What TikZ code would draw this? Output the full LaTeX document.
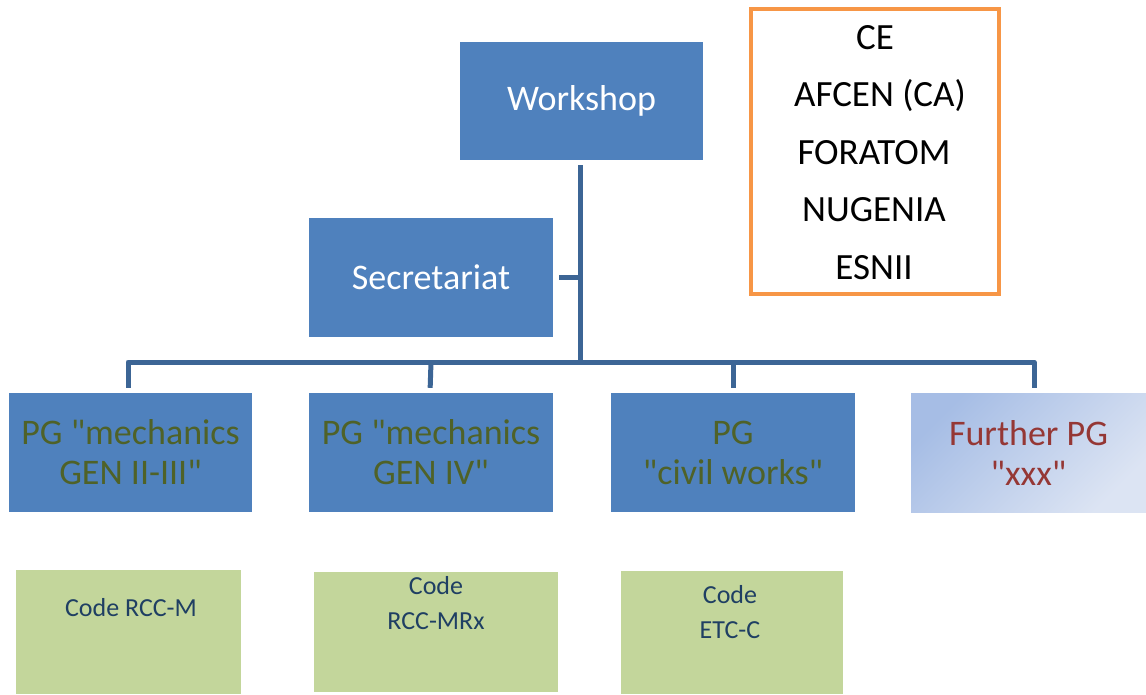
\documentclass[tikz,border=0pt]{standalone}
\usepackage{fontspec}
\setmainfont{Carlito}[Ligatures=TeXOff]
\definecolor{boxblue}{HTML}{4F81BD}
\definecolor{pgtext}{HTML}{4F6228}
\definecolor{redtext}{HTML}{953735}
\definecolor{codegreen}{HTML}{C3D69B}
\definecolor{codetext}{HTML}{1F3F63}
\definecolor{orangeb}{HTML}{F79646}
\definecolor{connc}{HTML}{3C6595}
\definecolor{gradA}{HTML}{A6BDE5}
\definecolor{gradB}{HTML}{DCE4F3}
\begin{document}
\begin{tikzpicture}[x=1pt,y=-1pt,
  bluebox/.style={rectangle,fill=boxblue,draw=none,inner sep=0pt,align=center},
  bigfont/.style={font=\fontsize{36}{40}\selectfont},
  codebox/.style={rectangle,fill=codegreen,draw=none,inner sep=0pt},
  codetxt/.style={font=\fontsize{26}{35}\selectfont,text=codetext,align=center,inner sep=0pt},
  orgtxt/.style={font=\fontsize{37}{40}\selectfont,text=black,inner sep=0pt},
  conn/.style={draw=connc,line width=5pt,line join=round}]
\useasboundingbox (0,0) rectangle (1146,694);
\fill[white] (0,0) rectangle (1146,694);
% top boxes
\node[bluebox,bigfont,text=white,minimum width=243pt,minimum height=118pt] (ws) at (581.5,101) {Workshop};
\node[bluebox,bigfont,text=white,minimum width=244pt,minimum height=119pt] (sec) at (431,277.5) {Secretariat};
% orange box
\node[rectangle,draw=orangeb,line width=4pt,fill=white,minimum width=248pt,minimum height=285pt,inner sep=0pt] (org) at (875,151.5) {};
\node[orgtxt] (t1) at (875,38) {CE};
\node[orgtxt] (t2) at (880,96) {AFCEN (CA)};
\node[orgtxt] (t3) at (874,153) {FORATOM};
\node[orgtxt] (t4) at (874,210) {NUGENIA};
\node[orgtxt] (t5) at (874,268) {ESNII};
% PG boxes
\node[bluebox,bigfont,text=pgtext,minimum width=243pt,minimum height=119pt] (pg1) at (130.5,452.5) {PG "mechanics\\GEN II-III"};
\node[bluebox,bigfont,text=pgtext,minimum width=244pt,minimum height=119pt] (pg2) at (431,452.5) {PG "mechanics\\GEN IV"};
\node[bluebox,bigfont,text=pgtext,minimum width=244pt,minimum height=119pt] (pg3) at (733,452.5) {PG\\"civil works"};
\node[rectangle,inner sep=0pt,minimum width=235pt,minimum height=119pt,left color=gradA,right color=gradB,shading angle=45,bigfont,text=redtext,align=center] (pg4) at (1028.5,452.5) {Further PG\\"xxx"};
% code boxes
\node[codebox,minimum width=225pt,minimum height=124pt] (c1) at (128.5,632) {};
\node[codebox,minimum width=244pt,minimum height=120pt] (c2) at (436,632) {};
\node[codebox,minimum width=222pt,minimum height=123pt] (c3) at (732,632.5) {};
\node[codetxt] (c1t) at (131,608) {Code RCC-M};
\node[codetxt] (c2t) at (436,603) {Code\\RCC-MRx};
\node[codetxt] (c3t) at (730,612) {Code\\ETC-C};
% connectors
\coordinate (bus) at (580,362);
\draw[conn,shorten <=5pt] ([xshift=-1.5pt]ws.south) -- (bus);
\draw[conn,shorten <=6pt] (sec.east) -- (sec.east -| bus);
\draw[conn,shorten <=5pt,shorten >=5pt] ([xshift=-2.5pt]pg1.north) -- ([xshift=-2.5pt]pg1.north |- bus) -- ([xshift=5.5pt]pg4.north |- bus) -- ([xshift=5.5pt]pg4.north);
\draw[conn,shorten >=5pt] (pg2.north |- bus) -- ([xshift=-1pt]pg2.north);
\draw[conn,shorten >=5pt] (pg3.north |- bus) -- (pg3.north);
\end{tikzpicture}
\end{document}
